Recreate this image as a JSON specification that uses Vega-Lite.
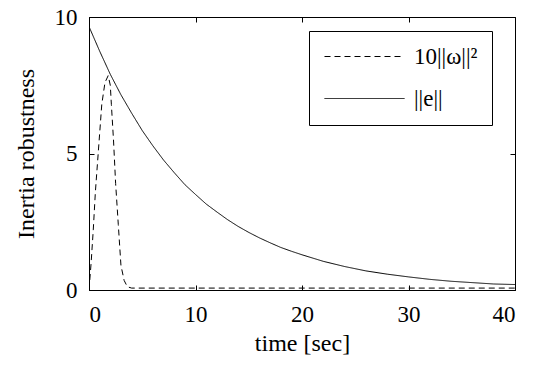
{
  "$schema": "https://vega.github.io/schema/vega-lite/v6.json",
  "autosize": {"type": "none"},
  "width": 426,
  "height": 273,
  "padding": {"left": 89, "top": 17, "right": 24, "bottom": 77},
  "background": "white",
  "config": {
    "font": "Liberation Serif",
    "view": {"stroke": "black", "strokeWidth": 1},
    "axis": {
      "labelColor": "black",
      "titleColor": "black",
      "titleFontWeight": "normal",
      "domainColor": "black",
      "tickColor": "black",
      "grid": false,
      "tickSize": -5
    }
  },
  "data": {
    "values": [
      {"t": 0, "v": 9.65, "s": "||e||"},
      {"t": 1, "v": 8.75, "s": "||e||"},
      {"t": 2, "v": 7.9, "s": "||e||"},
      {"t": 3, "v": 7.15, "s": "||e||"},
      {"t": 4, "v": 6.48, "s": "||e||"},
      {"t": 5, "v": 5.84, "s": "||e||"},
      {"t": 6, "v": 5.28, "s": "||e||"},
      {"t": 7, "v": 4.76, "s": "||e||"},
      {"t": 8, "v": 4.3, "s": "||e||"},
      {"t": 9, "v": 3.86, "s": "||e||"},
      {"t": 10, "v": 3.5, "s": "||e||"},
      {"t": 11, "v": 3.15, "s": "||e||"},
      {"t": 12, "v": 2.86, "s": "||e||"},
      {"t": 13, "v": 2.58, "s": "||e||"},
      {"t": 14, "v": 2.33, "s": "||e||"},
      {"t": 15, "v": 2.11, "s": "||e||"},
      {"t": 16, "v": 1.91, "s": "||e||"},
      {"t": 17, "v": 1.73, "s": "||e||"},
      {"t": 18, "v": 1.56, "s": "||e||"},
      {"t": 19, "v": 1.42, "s": "||e||"},
      {"t": 20, "v": 1.29, "s": "||e||"},
      {"t": 22, "v": 1.05, "s": "||e||"},
      {"t": 24, "v": 0.86, "s": "||e||"},
      {"t": 26, "v": 0.7, "s": "||e||"},
      {"t": 28, "v": 0.58, "s": "||e||"},
      {"t": 30, "v": 0.48, "s": "||e||"},
      {"t": 32, "v": 0.39, "s": "||e||"},
      {"t": 34, "v": 0.32, "s": "||e||"},
      {"t": 36, "v": 0.27, "s": "||e||"},
      {"t": 38, "v": 0.22, "s": "||e||"},
      {"t": 40, "v": 0.2, "s": "||e||"},
      {"t": 0, "v": 0, "s": "10||ω||²"},
      {"t": 0.2, "v": 1.0, "s": "10||ω||²"},
      {"t": 0.4, "v": 2.2, "s": "10||ω||²"},
      {"t": 0.6, "v": 3.6, "s": "10||ω||²"},
      {"t": 0.9, "v": 5.2, "s": "10||ω||²"},
      {"t": 1.2, "v": 6.8, "s": "10||ω||²"},
      {"t": 1.5, "v": 7.6, "s": "10||ω||²"},
      {"t": 1.8, "v": 7.85, "s": "10||ω||²"},
      {"t": 2.0, "v": 7.5, "s": "10||ω||²"},
      {"t": 2.1, "v": 6.8, "s": "10||ω||²"},
      {"t": 2.3, "v": 5.5, "s": "10||ω||²"},
      {"t": 2.5, "v": 3.9, "s": "10||ω||²"},
      {"t": 2.75, "v": 2.4, "s": "10||ω||²"},
      {"t": 3.0, "v": 0.9, "s": "10||ω||²"},
      {"t": 3.3, "v": 0.35, "s": "10||ω||²"},
      {"t": 3.6, "v": 0.12, "s": "10||ω||²"},
      {"t": 4, "v": 0.07, "s": "10||ω||²"},
      {"t": 40, "v": 0.07, "s": "10||ω||²"}
    ]
  },
  "layer": [
    {
      "mark": {"type": "line", "color": "black", "strokeWidth": 1, "clip": true},
      "encoding": {
        "x": {
          "field": "t", "type": "quantitative",
          "scale": {"domain": [0, 40], "nice": false},
          "axis": {"orient": "bottom", "values": [0, 10, 20, 30, 40], "title": "time [sec]", "labelPadding": 18, "titlePadding": 5,
            "labelFont": "Liberation Serif", "titleFont": "Liberation Serif", "labelFontSize": 23, "titleFontSize": 24}
        },
        "y": {
          "field": "v", "type": "quantitative",
          "scale": {"domain": [0, 10], "nice": false},
          "axis": {"orient": "left", "values": [0, 5, 10], "title": "Inertia robustness", "labelPadding": 17, "titlePadding": 16,
            "labelFont": "Liberation Serif", "titleFont": "Liberation Serif", "labelFontSize": 23, "titleFontSize": 24}
        },
        "strokeDash": {
          "field": "s", "type": "nominal",
          "scale": {"domain": ["10||ω||²", "||e||"], "range": [[6, 4], [1, 0]]},
          "legend": {
            "title": null,
            "orient": "none",
            "legendX": 220,
            "legendY": 14,
            "direction": "vertical",
            "symbolType": "M-4,0H4",
            "symbolSize": 400,
            "symbolOffset": 30,
            "symbolStrokeColor": "black",
            "symbolStrokeWidth": 1,
            "labelFont": "Liberation Serif",
            "labelFontSize": 23,
            "labelColor": "black",
            "labelOffset": 38,
            "rowPadding": 18,
            "padding": 14,
            "strokeColor": "black",
            "fillColor": "white"
          }
        },
        "detail": {"field": "s"}
      }
    },
    {
      "mark": {"type": "rule", "opacity": 0},
      "encoding": {
        "x": {
          "datum": 0, "type": "quantitative",
          "axis": {"orient": "top", "values": [0, 10, 20, 30, 40], "labels": false, "domain": false, "title": null}
        },
        "y": {
          "datum": 0, "type": "quantitative",
          "axis": {"orient": "right", "values": [0, 5, 10], "labels": false, "domain": false, "title": null}
        }
      }
    }
  ]
}
